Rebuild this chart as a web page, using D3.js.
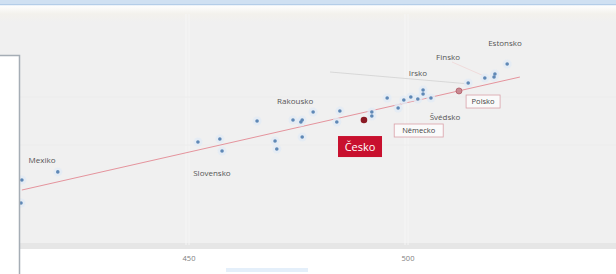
<!DOCTYPE html>
<html><head><meta charset="utf-8">
<script src="https://cdn.jsdelivr.net/npm/d3@7"></script>
<style>html,body{margin:0;padding:0;background:#fff;overflow:hidden}svg{display:block}</style>
</head><body>
<svg id="c" width="616" height="274"></svg>
<script>
// ---- data ----
const pointsX = [420.5,412.3,412.1,452.5,457.5,458.0,466.0,470.1,470.5,474.2,476.0,476.3,476.3,478.8,484.2,484.9,492.2,492.2,495.7,498.2,499.5,501.1,502.7,503.9,503.9,505.7,514.2,518.0,520.1,520.3,523.1];
const pointsY = [422,413.5,389.6,453.1,456.3,443.8,475,454.2,445.8,476,474,476,458.3,484.4,474,485.4,484.4,480.2,499,488.5,496.9,500,497.9,507.3,503.1,499,514.6,519.8,520.8,524,534.4];
const highlightNames = ["Česko","Polsko"];
const highlightX = [490.4,512.1];
const highlightY = [476,506.3];
const labelNames = ["Mexiko","Slovensko","Rakousko","Švédsko","Irsko","Finsko","Estonsko"];
const labelX = [416.9,455.7,474.7,508.9,502.7,509.6,522.6];
const labelY = [434.4,420.8,495.8,479.2,525.0,541.7,556.3];
const boxLabelNames = ["Česko","Německo","Polsko"];
const boxLabelX = [489.5,502.9,517.6];
const boxLabelY = [448.4,465.1,495.3];
const trendX = [412.3,526.0];
const trendY = [403.1,520.8];
const xTicks = [450,500];
const yGrid = [450,500];

// ---- scales ----
const x = d3.scaleLinear().domain([450,500]).range([187,406]);
const y = d3.scaleLinear().domain([450,500]).range([145,97]);

const svg = d3.select("#c");
const font = "'Open Sans','DejaVu Sans',sans-serif";

// window chrome
svg.append("rect").attr("x",0).attr("y",0).attr("width",616).attr("height",5).attr("fill","#cfe0f2");
svg.append("rect").attr("x",0).attr("y",4).attr("width",616).attr("height",1.5).attr("fill","#b4cde8");
const grad = svg.append("defs").append("linearGradient").attr("id","g").attr("x1",0).attr("x2",0).attr("y1",0).attr("y2",1);
grad.append("stop").attr("offset","0").attr("stop-color","#fefefe");
grad.append("stop").attr("offset","0.5").attr("stop-color","#f3f1ec");
grad.append("stop").attr("offset","1").attr("stop-color","#f0f0f0");
svg.append("rect").attr("x",0).attr("y",5.5).attr("width",616).attr("height",17).attr("fill","url(#g)");
// plot background
svg.append("rect").attr("x",0).attr("y",22).attr("width",616).attr("height",223).attr("fill","#f0f0f0");
svg.append("rect").attr("x",0).attr("y",243).attr("width",616).attr("height",6).attr("fill","#e6e6e6");
svg.append("rect").attr("x",0).attr("y",249).attr("width",616).attr("height",25).attr("fill","#ffffff");

// grid
svg.selectAll(".vg").data(xTicks).join("line")
  .attr("x1",d=>x(d)-1).attr("x2",d=>x(d)-1).attr("y1",14).attr("y2",245)
  .attr("stroke","#f6f6f6").attr("stroke-width",1);
svg.selectAll(".vg2").data(xTicks).join("line")
  .attr("x1",d=>x(d)+2).attr("x2",d=>x(d)+2).attr("y1",14).attr("y2",245)
  .attr("stroke","#f5f5f5").attr("stroke-width",1);
svg.selectAll(".hg").data(yGrid).join("line")
  .attr("x1",0).attr("x2",616).attr("y1",d=>y(d)).attr("y2",d=>y(d))
  .attr("stroke","#ececec").attr("stroke-width",1);

// x tick labels
svg.selectAll(".xt").data(xTicks).join("text")
  .attr("x",d=>x(d)+2).attr("y",261).attr("text-anchor","middle")
  .attr("font-family",font).attr("font-size",7.5).attr("fill","#808080").text(d=>d);
svg.append("rect").attr("x",226).attr("y",268).attr("width",82).attr("height",4).attr("fill","#d8e8f8").attr("opacity",0.7);

// leader lines
svg.append("line").attr("x1",330).attr("y1",72).attr("x2",470).attr("y2",84).attr("stroke","#d2d2d2").attr("stroke-width",0.8);
svg.append("line").attr("x1",452).attr("y1",62).attr("x2",484).attr("y2",76).attr("stroke","#f0d6d6").attr("stroke-width",0.8);

// trend line
svg.append("line").attr("x1",x(trendX[0])).attr("y1",y(trendY[0])).attr("x2",x(trendX[1])).attr("y2",y(trendY[1]))
  .attr("stroke","#e48a94").attr("stroke-width",1).attr("opacity",0.9);

// points
const pts = pointsX.map((v,i)=>({x:v,y:pointsY[i]}));
svg.selectAll(".halo").data(pts).join("circle").attr("cx",d=>x(d.x)).attr("cy",d=>y(d.y)).attr("r",4.5).attr("fill","#e2ebf5").attr("opacity",0.8);
svg.selectAll(".pt").data(pts).join("circle").attr("cx",d=>x(d.x)).attr("cy",d=>y(d.y)).attr("r",1.8)
  .attr("fill","#5f88b6");

// highlights
svg.append("circle").attr("cx",x(highlightX[0])).attr("cy",y(highlightY[0])).attr("r",3.3).attr("fill","#8a1a24");
svg.append("circle").attr("cx",x(highlightX[1])).attr("cy",y(highlightY[1])).attr("r",3).attr("fill","#c98a92").attr("stroke","#b05a66").attr("stroke-width",0.8);

// plain labels
svg.selectAll(".lb").data(labelNames).join("text")
  .attr("x",(d,i)=>x(labelX[i])).attr("y",(d,i)=>y(labelY[i])+2.8).attr("text-anchor","middle")
  .attr("font-family",font).attr("font-size",8).attr("fill","#555").text(d=>d);

// boxed labels
const bw = [44,49,34], bh = [21,13,13];
boxLabelNames.forEach((n,i)=>{
  const cx = x(boxLabelX[i]), cy = y(boxLabelY[i]);
  if(i===0){
    svg.append("rect").attr("x",cx-bw[i]/2).attr("y",cy-bh[i]/2).attr("width",bw[i]).attr("height",bh[i]).attr("fill","#c8102e");
    svg.append("text").attr("x",cx).attr("y",cy+4).attr("text-anchor","middle").attr("font-family",font).attr("font-size",11).attr("fill","#fff").text(n);
  } else {
    svg.append("rect").attr("x",cx-bw[i]/2).attr("y",cy-bh[i]/2).attr("width",bw[i]).attr("height",bh[i]).attr("fill","#fafafa").attr("stroke","#d9a0a8").attr("stroke-width",0.8);
    svg.append("text").attr("x",cx).attr("y",cy+2.8).attr("text-anchor","middle").attr("font-family",font).attr("font-size",7.5).attr("fill","#444").text(n);
  }
});

// overlapping left panel
svg.append("rect").attr("x",0).attr("y",55).attr("width",19).attr("height",222).attr("fill","#ffffff");
svg.append("path").attr("d","M0,55.5 H19.5 V274").attr("fill","none").attr("stroke","#a5adb5").attr("stroke-width",1.5);
</script>
</body></html>
